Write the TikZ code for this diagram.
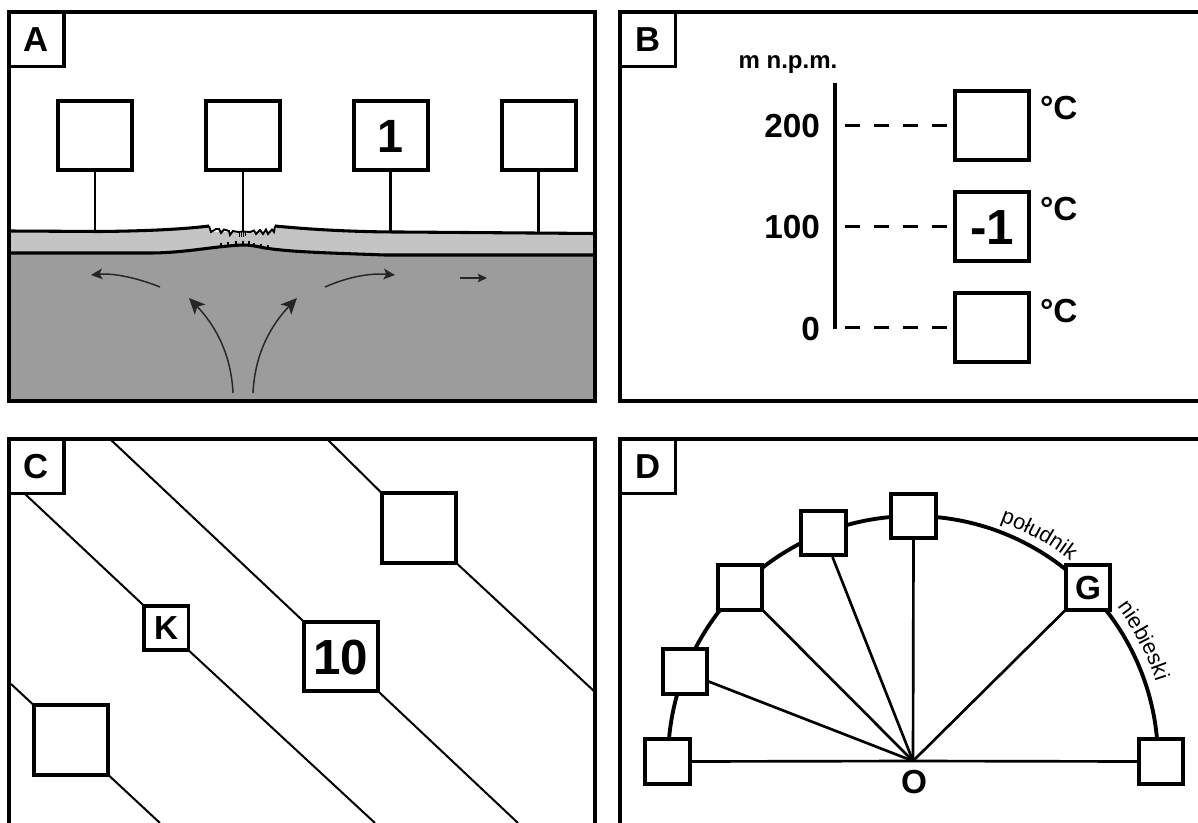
\documentclass[tikz,border=0pt]{standalone}
\usepackage{fontspec}
\setmainfont{Liberation Sans}
\usetikzlibrary{arrows.meta,decorations.text}
\tikzset{
  frame/.style={line width=3pt,line join=miter},
  square/.style={draw,fill=white,line width=3pt,inner sep=0pt,outer sep=0pt,align=center},
  bigbox/.style={square,minimum width=55.5pt,minimum height=52pt},
  smallbox/.style={square,line width=2.8pt,minimum width=33.5pt,minimum height=33.5pt,font=\fontsize{25}{30}\selectfont\bfseries,text height=17.9pt,text depth=0pt},
  bigtext/.style={font=\fontsize{37}{40}\selectfont\bfseries,text height=26.5pt,text depth=0pt},
  labelbox/.style={draw,fill=white,line width=2.5pt,inner sep=0pt,outer sep=0pt,minimum width=41.25pt,minimum height=40.9pt,font=\fontsize{26}{30}\selectfont\bfseries,text height=18.7pt,text depth=0pt},
  stem/.style={line width=2.1pt},
  diag/.style={line width=1.5pt},
  ray/.style={line width=2pt},
  dashline/.style={line width=2pt,dash pattern=on 11.25pt off 10.5pt},
  flow/.style={line width=1.1pt,black!85},
  bigflow/.style={flow,-{Stealth[length=12pt,width=11pt,inset=3pt]}},
  smallflow/.style={flow,-{Stealth[length=8.5pt,width=8pt,inset=2pt]}},
  tinyflow/.style={line width=0.8pt,black!85,-{Stealth[length=7pt,width=6.5pt,inset=1.5pt]}},
  plain/.style={inner sep=0pt,outer sep=0pt,anchor=base,font=\fontsize{25}{30}\selectfont\bfseries},
}
\begin{document}
\begin{tikzpicture}[x=0.75pt,y=-0.75pt]
\useasboundingbox (0,0) rectangle (1198,823);
% ---------- Panel A ----------
\fill[fill=black!23] (9,231) -- (100,231.5) .. controls (150,231) and (185,229) .. (209,226) -- (212,232) -- (275,232) -- (275,226) .. controls (305,229) and (350,232) .. (400,232) -- (595,233.5) -- (595,260) -- (9,260) -- cycle;
\fill[fill=black!39] (9,253) -- (150,253) .. controls (185,253) and (215,246) .. (243,245) .. controls (250,245) and (255,246) .. (265,248) .. controls (290,252) and (330,253) .. (385,255) -- (595,255) -- (595,401) -- (9,401) -- cycle;
\draw[line width=2.3pt] (9,231) -- (100,231.5) .. controls (150,231) and (185,229) .. (209,226);
\draw[line width=1.4pt] (209,226) -- (211,232) -- (216,229) -- (219,229) -- (221,233) -- (224,229.5) -- (229,231) -- (230,235) -- (233,231) -- (238,232) -- (243,231.5) -- (250,232) -- (254,230.5) -- (256,234) -- (260,230) -- (263,234) -- (266,229.5) -- (268,234) -- (272,229.5) -- (274,232) -- (275,226);
\draw[line width=0.7pt] (239,231) -- (239,237) (241,231) -- (241,237) (243,231) -- (243,237) (245,231) -- (245,236);
\draw[line width=2.3pt] (275,226) .. controls (305,229) and (350,232) .. (400,232) -- (595,233.5);
\draw[line width=2.3pt] (9,253) -- (150,253) .. controls (185,253) and (215,246) .. (243,245) .. controls (250,245) and (255,246) .. (265,248) .. controls (290,252) and (330,253) .. (385,255) -- (595,255);
\draw[line width=0.8pt] (221,246) -- (221,243) (228,246) -- (228,242) (236,245) -- (236,241) (243,245) -- (243,241) (249,245) -- (249,241) (254,246) -- (254,243) (261,247) -- (261,244) (268,249) -- (268,245);
\coordinate (af1) at (160,287); \coordinate (at1) at (91,275);
\coordinate (af2) at (325,287); \coordinate (at2) at (395,275);
\coordinate (af3) at (233,393); \coordinate (at3) at (189,298);
\coordinate (af4) at (253,393); \coordinate (at4) at (297,298);
\coordinate (af5) at (460,278); \coordinate (at5) at (487,278);
\draw[smallflow] (af1) .. controls (135,277) and (112,273) .. (at1);
\draw[smallflow] (af2) .. controls (350,276) and (372,273) .. (at2);
\draw[bigflow] (af3) .. controls (231,350) and (212,322) .. (at3);
\draw[bigflow] (af4) .. controls (255,350) and (274,322) .. (at4);
\draw[tinyflow] (af5) -- (at5);
\node[bigbox] (a1) at (95,135.5) {};
\node[bigbox] (a2) at (243,135.5) {};
\node[bigbox,bigtext,font=\fontsize{35}{40}\selectfont\bfseries,text height=25pt] (a3) at (390.5,135.5) {1};
\node[bigbox] (a4) at (538.5,135.5) {};
\coordinate (g1) at (95,231); \coordinate (g2) at (243,232); \coordinate (g3) at (390.5,232); \coordinate (g4) at (538.5,233);
\foreach \n in {1,2,3,4} \draw[stem] (a\n.south) -- (g\n);
\draw[frame] (9,12) rectangle (595,401);
\node[labelbox] (la) at (36.5,39.25) {A};
% ---------- Panel B ----------
\draw[frame] (1198,12) -- (620,12) -- (620,401) -- (1198,401);
\node[labelbox] (lb) at (648,39.25) {B};
\node[plain,font=\fontsize{18}{22}\selectfont\bfseries] (unit) at (788,69) {m n.p.m.};
\coordinate (axt) at (835,83); \coordinate (axb) at (835,329);
\draw[line width=2.7pt] (axt) -- (axb);
\node[bigbox] (b1) at (992,125.5) {};
\node[bigbox,bigtext] (b2) at (992,226.5) {-1};
\node[bigbox] (b3) at (992,327.5) {};
\coordinate (d1) at (845,125.5); \coordinate (d2) at (845,226.5); \coordinate (d3) at (845,327.5);
\foreach \n in {1,2,3} \draw[dashline] (d\n) -- (b\n.west);
\node[plain,anchor=base east] (h200) at (820,138) {200};
\node[plain,anchor=base east] (h100) at (820,239) {100};
\node[plain,anchor=base east] (h0) at (820,340) {0};
\node[plain,anchor=base west] (c1) at (1040,120) {°C};
\node[plain,anchor=base west] (c2) at (1040,221) {°C};
\node[plain,anchor=base west] (c3) at (1040,322) {°C};
% ---------- Panel C ----------
\node[bigbox] (c10a) at (419,528) {};
\node[bigbox,bigtext] (c10) at (341,656.5) {10};
\node[bigbox] (c0) at (71,740) {};
\node[smallbox] (ck) at (166.25,628) {K};
\coordinate (e1) at (110,439); \coordinate (e2) at (327,439); \coordinate (e3) at (25,494);
\coordinate (e4) at (11,684); \coordinate (e5) at (518,823); \coordinate (e6) at (595,692);
\coordinate (e7) at (375,823); \coordinate (e8) at (160,823);
\draw[diag] (e1) -- (c10.north west) (c10.south east) -- (e5);
\draw[diag] (e2) -- (c10a.north west) (c10a.south east) -- (e6);
\draw[diag] (e3) -- (ck.north west) (ck.south east) -- (e7);
\draw[diag] (e4) -- (c0.north west) (c0.south east) -- (e8);
\draw[frame] (9,823) -- (9,439) -- (595,439) -- (595,823);
\node[labelbox] (lc) at (36.5,466.5) {C};
% ---------- Panel D ----------
\draw[frame] (1198,439) -- (620,439) -- (620,823);
\node[labelbox] (ld) at (648,466.5) {D};
\coordinate (o) at (913,761);
\draw[line width=2.9pt] (668,761) arc[start angle=180,end angle=0,radius=183.75pt];
\path[decorate,decoration={text along path,text={|\fontsize{16.3}{20}\selectfont|południk},text align=left}]
  (1000,522) arc[start angle=70.3,end angle=48,radius=189.75pt];
\path[decorate,decoration={text along path,text={|\fontsize{16.3}{20}\selectfont|niebieski},text align=left}]
  (1117,607) arc[start angle=37,end angle=13,radius=190.5pt];
\node[smallbox] (s5) at (667.5,761.5) {};
\node[smallbox] (s4) at (685,671.5) {};
\node[smallbox] (s3) at (740,587.5) {};
\node[smallbox] (s2) at (823.5,533) {};
\node[smallbox] (s1) at (913.5,516) {};
\node[smallbox] (sg) at (1088,587.5) {G};
\node[smallbox] (sr) at (1161,761.5) {};
\draw[ray] (s5.east) -- (o);
\draw[ray] (s4.east |- 0,681) -- (o);
\draw[ray] (s3.south east) -- (o);
\draw[ray] (s2.south |- 0,557) ++(9,0) -- (o);
\draw[ray] (s1.south) -- (o);
\draw[ray] (sg.south west) -- (o);
\draw[ray] (sr.west) -- (o);
\node[plain,anchor=base] (olabel) at (914,793) {O};
\end{tikzpicture}
\end{document}
